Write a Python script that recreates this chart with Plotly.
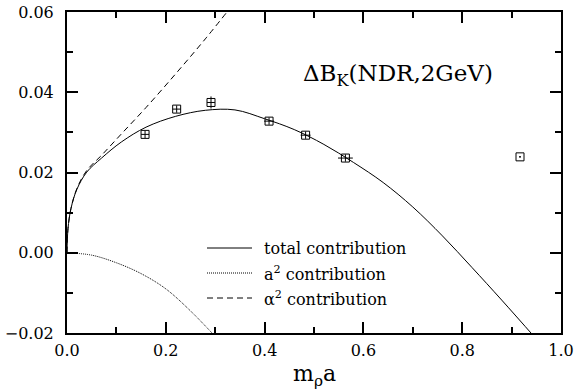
import plotly.graph_objects as go

# ---- data ----
pt_x = [0.158, 0.222, 0.2915, 0.409, 0.483, 0.5636, 0.917]
pt_y = [0.0295, 0.0358, 0.03745, 0.0328, 0.0293, 0.0236, 0.0239]
pt_xerr = [0.008, 0.008, 0.008, 0.010, 0.010, 0.015, 0.002]
pt_yerr = [0.0009, 0.0009, 0.0015, 0.0009, 0.0009, 0.0009, 0.0002]

total_x = [0, 0.002, 0.008, 0.02, 0.04, 0.07, 0.11, 0.16, 0.22, 0.28, 0.34,
           0.40, 0.46, 0.52, 0.58, 0.64, 0.70, 0.76, 0.82, 0.88, 0.95]
total_y = [0, 0.006, 0.011, 0.0158, 0.0201, 0.0236, 0.0276, 0.0313, 0.0340, 0.0355, 0.0356,
           0.0334, 0.0307, 0.0270, 0.0225, 0.0175, 0.0114, 0.0042, -0.0037, -0.0118, -0.0215]

a2_x = [0, 0.05, 0.1, 0.15, 0.2, 0.25, 0.295]
a2_y = [0, -0.0006, -0.0025, -0.0052, -0.009, -0.0145, -0.0202]

al2_x = [0, 0.002, 0.008, 0.02, 0.04, 0.07, 0.11, 0.16, 0.22, 0.28, 0.34]
al2_y = [0, 0.006, 0.011, 0.016, 0.0205, 0.0243, 0.0296, 0.0362, 0.0446, 0.0533, 0.0625]

x_ticks = [0.0, 0.2, 0.4, 0.6, 0.8, 1.0]
y_ticks = [-0.02, 0.0, 0.02, 0.04, 0.06]

legend_labels = ["total contribution", "a<sup>2</sup> contribution", "α<sup>2</sup> contribution"]
legend_dash = ["solid", "1px,1px", "6px,4px"]

FONT = "DejaVu Serif, Noto Serif, serif"

fig = go.Figure()
fig.add_trace(go.Scatter(x=total_x, y=total_y, mode="lines",
                         line=dict(color="black", width=1, shape="spline", smoothing=1.0),
                         showlegend=False))
fig.add_trace(go.Scatter(x=a2_x, y=a2_y, mode="lines",
                         line=dict(color="black", width=1, dash="1px,1px", shape="spline"),
                         showlegend=False))
fig.add_trace(go.Scatter(x=al2_x, y=al2_y, mode="lines",
                         line=dict(color="black", width=1, dash="6px,4px", shape="spline", smoothing=1.0),
                         showlegend=False))
fig.add_trace(go.Scatter(x=pt_x, y=pt_y, mode="markers",
                         marker=dict(symbol="square-open", size=8, color="black", line=dict(width=1)),
                         error_x=dict(type="data", array=pt_xerr, width=0, thickness=1, color="black"),
                         error_y=dict(type="data", array=pt_yerr, width=0, thickness=1, color="black"),
                         showlegend=False))

# plot area in pixels
L, R, T, B = 67, 13, 12, 59
W, H = 574, 392
pw, ph = W - L - R, H - T - B

def px_x(p):
    return (p - L) / pw

def px_y(p):
    return (H - B - p) / ph

annotations = []
shapes = []
rows = [248, 273, 298]
for lab, dash, ry in zip(legend_labels, legend_dash, rows):
    shapes.append(dict(type="line", xref="paper", yref="paper",
                       x0=px_x(207), x1=px_x(252), y0=px_y(ry), y1=px_y(ry),
                       line=dict(color="black", width=1, dash=dash)))
    annotations.append(dict(xref="paper", yref="paper", x=px_x(262), y=px_y(ry),
                            xanchor="left", yanchor="middle", text=lab, showarrow=False,
                            font=dict(family=FONT, size=16, color="black")))

annotations.append(dict(xref="paper", yref="paper", x=px_x(398), y=px_y(75),
                        xanchor="center", yanchor="middle",
                        text="ΔB<sub>K</sub>(NDR,2GeV)", showarrow=False,
                        font=dict(family=FONT, size=23, color="black")))
annotations.append(dict(xref="paper", yref="paper", x=px_x(314), y=px_y(375),
                        xanchor="center", yanchor="middle",
                        text="m<sub>ρ</sub>a", showarrow=False,
                        font=dict(family=FONT, size=22, color="black")))

axis_common = dict(showgrid=False, zeroline=False, showline=True, linecolor="black",
                   linewidth=2, mirror="ticks", ticks="inside", ticklen=11, tickwidth=1.5,
                   tickcolor="black", automargin=False,
                   tickfont=dict(family=FONT, size=16, color="black"))

fig.update_layout(
    width=W, height=H,
    margin=dict(l=L, r=R, t=T, b=B, autoexpand=False),
    paper_bgcolor="white", plot_bgcolor="white",
    font=dict(family=FONT, color="black"),
    xaxis=dict(range=[0, 1], tickvals=x_ticks, ticktext=[f"{v:.1f}" for v in x_ticks],
               minor=dict(dtick=0.1, ticks="inside", ticklen=6, tickwidth=1.5, tickcolor="black"),
               ticklabelstandoff=2, **axis_common),
    yaxis=dict(range=[-0.02, 0.06], tickvals=y_ticks,
               ticktext=[("\u2212" if v < 0 else "") + f"{abs(v):.2f}" for v in y_ticks],
               minor=dict(dtick=0.01, ticks="inside", ticklen=6, tickwidth=1.5, tickcolor="black"),
               ticklabelstandoff=8, **axis_common),
    annotations=annotations, shapes=shapes,
)

fig.write_html("out.html")
